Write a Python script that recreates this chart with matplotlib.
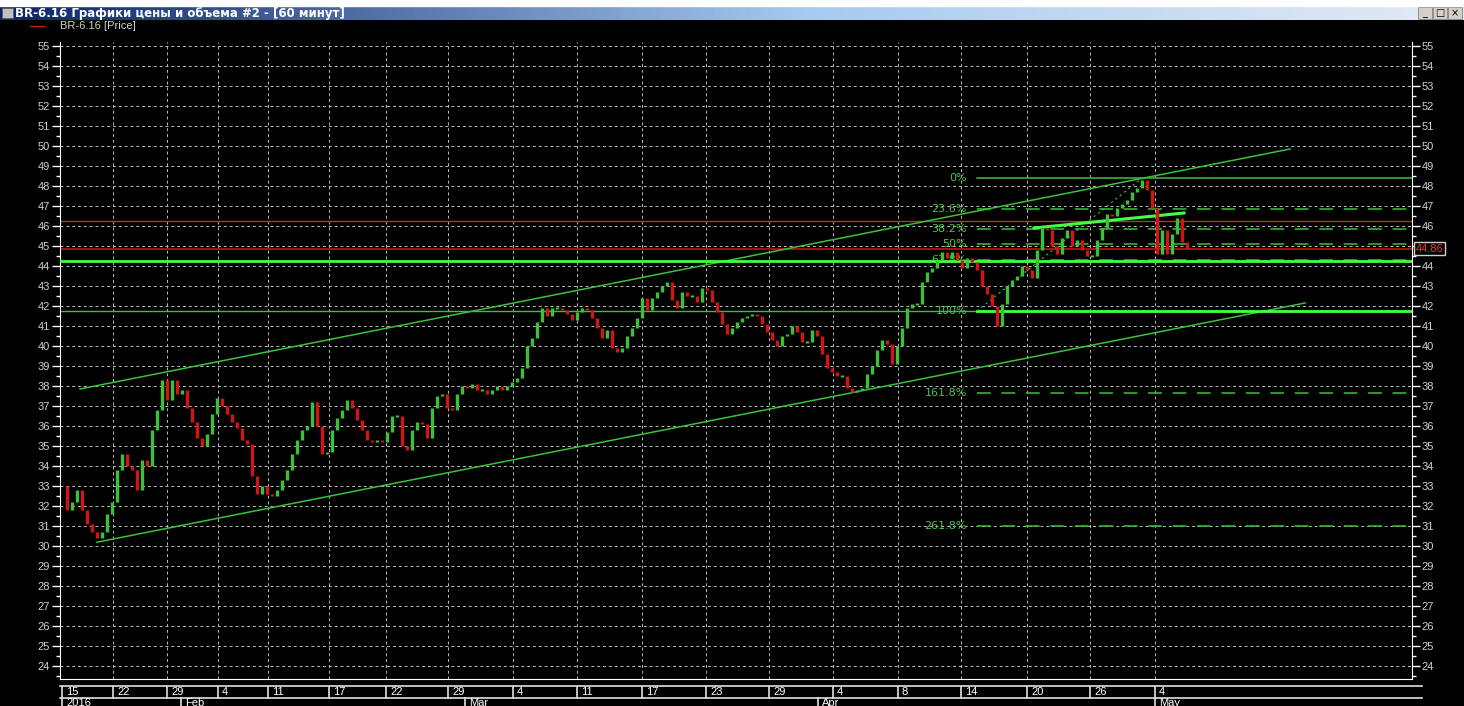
import matplotlib.pyplot as plt
import numpy as np
from matplotlib.patches import Rectangle
from matplotlib.colors import LinearSegmentedColormap

# hourly closes, every few bars
closes = [33.0, 31.8, 32.2, 32.8, 31.8, 31.1, 30.7, 30.4, 30.7, 31.6,
          32.2, 33.8, 34.6, 34.0, 33.8, 32.8, 34.3, 34.0, 35.8, 36.8,
          38.3, 37.3, 38.3, 37.6, 37.8, 36.9, 36.2, 35.4, 35.0, 35.6,
          36.6, 37.4, 37.0, 36.6, 36.2, 35.9, 35.3, 35.1, 33.5, 32.6,
          33.0, 32.6, 32.5, 32.8, 33.3, 33.8, 34.6, 35.3, 35.8, 36.0,
          37.2, 36.0, 34.6, 34.7, 35.8, 36.4, 36.8, 37.3, 36.9, 36.3,
          35.8, 35.3, 35.2, 35.3, 35.2, 35.7, 36.5, 36.5, 35.0, 34.8,
          35.8, 36.2, 36.1, 35.4, 36.9, 37.5, 37.6, 36.9, 36.8, 37.6,
          38.0, 37.9, 38.1, 37.8, 37.8, 37.6, 37.8, 38.0, 37.8, 38.0,
          38.2, 38.4, 38.9, 40.0, 40.4, 41.2, 41.9, 41.5, 41.9, 41.9,
          41.8, 41.6, 41.3, 41.7, 41.9, 41.8, 41.4, 40.9, 40.4, 40.8,
          39.9, 39.7, 39.9, 40.5, 40.9, 41.4, 42.4, 41.8, 42.4, 42.7,
          43.0, 43.2, 42.3, 41.9, 42.7, 42.5, 42.5, 42.2, 42.9, 42.8,
          42.2, 41.7, 41.1, 40.6, 40.9, 41.2, 41.4, 41.5, 41.6, 41.5,
          41.1, 40.7, 40.3, 40.0, 40.5, 40.6, 41.0, 40.7, 40.2, 40.2,
          40.8, 40.5, 39.6, 38.9, 38.7, 38.5, 38.5, 37.9, 37.7, 37.8,
          37.9, 38.6, 39.0, 39.8, 40.3, 40.1, 39.1, 40.0, 40.9, 41.9,
          42.1, 42.1, 43.2, 43.7, 43.9, 44.3, 44.7, 44.4, 44.7, 44.3,
          43.9, 44.4, 44.2, 43.8, 43.0, 42.6, 42.0, 41.0, 42.1, 43.0,
          43.3, 43.5, 44.0, 43.8, 43.4, 44.8, 45.9, 45.8, 45.0, 44.6,
          45.4, 45.8, 45.0, 45.3, 44.8, 44.5, 44.5, 45.3, 45.9, 46.6,
          46.5, 46.9, 47.1, 47.3, 47.7, 47.9, 48.3, 47.8, 46.9, 44.6,
          45.8, 44.6, 45.6, 46.4, 45.2, 44.86]
last_price = 44.86

day_labels = ["15", "22", "29", "4", "11", "17", "22", "29", "4", "11",
              "17", "23", "29", "4", "8", "14", "20", "26", "4"]
day_pos = [0, 10.2, 21, 31.2, 41.2, 53.4, 64.8, 77.2, 90.2, 103,
           116, 128.8, 141.4, 154.2, 167.2, 179.8, 193, 205.6, 218.6]
month_labels = ["2016", "Feb", "Mar", "Apr", "May"]
month_pos = [0, 23.8, 80.6, 151.2, 218.6]

# drawn objects
upper_channel = [(3.6, 37.85), (245.6, 49.85)]
lower_channel = [(7, 30.19), (248.6, 42.15)]
neckline = [(194.4, 45.9), (224.4, 46.65)]
fib_start = 183
fib_peak = 216
fib_labels = ["0%", "23.6%", "38.2%", "50%", "61.8%", "100%", "161.8%", "261.8%"]
fib_levels = [48.4, 46.83, 45.86, 45.08, 44.29, 41.75, 37.64, 30.99]
support_level = 44.25
minor_level = 41.75
brown_level = 46.25

W, H = 1464, 706
fig = plt.figure(figsize=(W / 100, H / 100), dpi=100, facecolor="black")

GREEN = "#3cc03c"
BRIGHT = "#44ff44"
RED = "#d01515"
GRID = "#bdbdbd"
TXT = "#d0d0d0"

# main price axes
ax = fig.add_axes([60 / W, 1 - 679 / H, 1352 / W, (679 - 42) / H])
ax.set_facecolor("black")
ax.set_xlim(-0.4, 270)
ax.set_ylim(23.35, 55.2)

for p in range(24, 56):
    ax.axhline(p, color=GRID, lw=0.7, ls=(0, (3, 3)), zorder=1)
for d in day_pos[1:]:
    ax.axvline(d, color=GRID, lw=0.7, ls=(0, (3, 3)), zorder=1)

# horizontal levels
ax.axhline(brown_level, color="#8a4a18", lw=1, zorder=2)
ax.axhline(last_price, color="#c81010", lw=1.2, zorder=2)
ax.axhline(minor_level, color=GREEN, lw=1, zorder=2)
ax.axhline(support_level, color=BRIGHT, lw=2, zorder=4)

# channel lines
for ln in (upper_channel, lower_channel):
    ax.plot([ln[0][0], ln[1][0]], [ln[0][1], ln[1][1]], color=GREEN, lw=1.1, zorder=3)
ax.plot([neckline[0][0], neckline[1][0]], [neckline[0][1], neckline[1][1]],
        color=BRIGHT, lw=2.2, zorder=5)

# fibonacci levels
for lab, lev in zip(fib_labels, fib_levels):
    if lab in ("0%", "100%"):
        ax.plot([fib_start, 270], [lev, lev], color=BRIGHT if lab == "100%" else GREEN,
                lw=2 if lab == "100%" else 1.1, zorder=3)
    else:
        ax.plot([fib_start, 270], [lev, lev], color=GREEN, lw=1.1,
                ls=(0, (9, 7)), zorder=3)
    ax.text(fib_start - 2, lev, lab, color="#4cc44c", fontsize=8,
            ha="right", va="center", zorder=3)
ax.plot([fib_start, fib_peak], [fib_levels[5], fib_levels[0]], color=GREEN,
        lw=0.8, ls=(0, (2, 3)), zorder=3)

# candles
for i in range(1, len(closes)):
    o, c = closes[i - 1], closes[i]
    col = GREEN if c >= o else RED
    lo, hi = min(o, c), max(o, c)
    if hi - lo < 0.08:
        hi += 0.05
        lo -= 0.05
    ax.vlines(i, lo, hi, color=col, lw=2.4, zorder=6)

# axes styling
ax.spines["top"].set_visible(False)
ax.spines["left"].set_color("white")
ax.spines["right"].set_color("white")
ax.spines["bottom"].set_color("white")
ax.set_xticks([])
ax.set_yticks(range(24, 56))
ax.set_yticks(np.arange(23.5, 55.5, 1.0), minor=True)
ax.tick_params(axis="y", which="major", colors="white", labelcolor=TXT, length=6,
               width=1, labelsize=8, left=True, right=True, labelleft=True,
               labelright=True, pad=1)
ax.tick_params(axis="y", which="minor", colors="white", length=3, width=1,
               left=True, right=True)
for t in ax.get_yticklabels():
    t.set_fontfamily("Liberation Sans")
# the price tag hides the right-hand 45
for tick, val in zip(ax.yaxis.get_major_ticks(), range(24, 56)):
    tick.label2.set_fontfamily("Liberation Sans")
    if val == 45:
        tick.label2.set_visible(False)

# last price tag on right axis
ax.text(1.0 + 4 / 1352, last_price, f"{last_price:.2f}", transform=ax.get_yaxis_transform(),
        color="#ff3030", fontsize=8, ha="left", va="center", fontfamily="Liberation Sans",
        zorder=10, clip_on=False,
        bbox=dict(boxstyle="square,pad=0.15", fc="black", ec="#d0d0d0", lw=1))

# date band
dax = fig.add_axes([60 / W, 0, 1352 / W, 20 / H])
dax.set_facecolor("black")
dax.set_xlim(-0.4, 270)
dax.set_ylim(0, 20)
dax.axis("off")
dax.plot([-0.4, 272], [20, 20], color="#e0e0e0", lw=1.2, clip_on=False)
dax.plot([-0.4, 272], [8, 8], color="#e0e0e0", lw=1.2, clip_on=False)
for lab, d in zip(day_labels, day_pos):
    dax.plot([d, d], [8, 20], color="#e0e0e0", lw=1.2)
    dax.text(d + 0.8, 14, lab, color="white", fontsize=8, ha="left", va="center",
             fontfamily="Liberation Sans")
for lab, d in zip(month_labels, month_pos):
    dax.plot([d, d], [-2, 8], color="#e0e0e0", lw=1.2, clip_on=False)
    dax.text(d + 0.8, 8, lab, color="white", fontsize=8, ha="left", va="top",
             fontfamily="Liberation Sans", clip_on=False)

# window title bar
fig.patches.append(Rectangle((0, 1 - 6 / H), 1, 6 / H, transform=fig.transFigure,
                             color="white", zorder=0))
tax = fig.add_axes([0, 1 - 20 / H, 1, 14 / H])
tax.axis("off")
cmap = LinearSegmentedColormap.from_list(
    "xp", [(0, "#0a246a"), (0.55, "#a6caf0"), (1, "#e4ebf4")])
tax.imshow(np.linspace(0, 1, 400)[None, :], aspect="auto", cmap=cmap,
           extent=[0, 1, 0, 1])
tax.set_xlim(0, 1)
tax.set_ylim(0, 1)
tax.add_patch(Rectangle((2 / W, 0.15), 11 / W, 0.7, fc="#c0c0c0", ec="#606060", lw=0.6))
tax.text(15 / W, 0.5, "BR-6.16 Графики цены и объема #2 - [60 минут]", color="white",
         fontsize=8.5, fontweight="bold", va="center", ha="left")
for k, sym in enumerate(["_", "□", "×"]):
    x0 = (1418 + k * 15) / W
    tax.add_patch(Rectangle((x0, 0.1), 14 / W, 0.8, fc="#d4d0c8", ec="#808080", lw=0.6))
    tax.text(x0 + 7 / W, 0.5, sym, color="black", fontsize=7, ha="center", va="center")

# legend line
fig.lines.append(plt.Line2D([30 / W, 44 / W], [1 - 26 / H, 1 - 26 / H],
                            transform=fig.transFigure, color=RED, lw=1))
fig.text(60 / W, 1 - 26 / H, "BR-6.16 [Price]", color=TXT, fontsize=8, va="center",
         fontfamily="Liberation Sans")

fig.savefig("out.png", dpi=100, facecolor="black")
